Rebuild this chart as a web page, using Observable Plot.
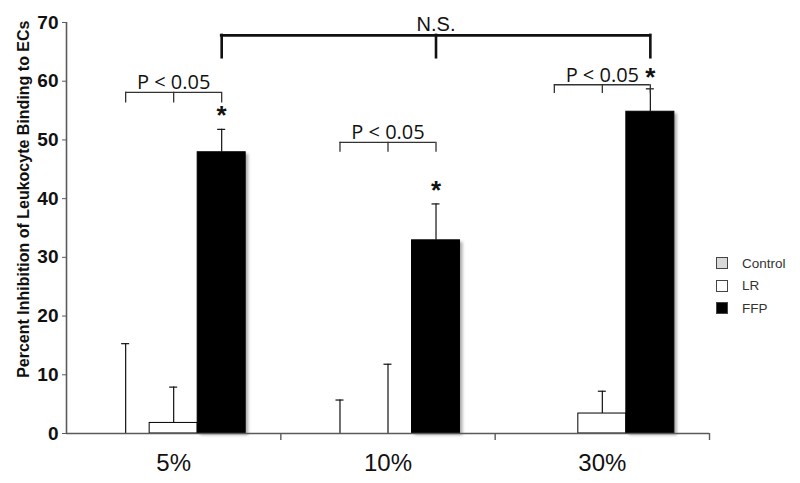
<!DOCTYPE html>
<html><head><meta charset="utf-8">
<script src="https://cdn.jsdelivr.net/npm/d3@7"></script>
<script src="https://cdn.jsdelivr.net/npm/@observablehq/plot@0.6"></script>
<style>
body{margin:0;background:#fff;}
#wrap{position:relative;width:800px;height:483px;}
#wrap svg{position:absolute;left:0;top:0;}
.legend{position:absolute;left:716px;top:252px;font-family:"Liberation Sans",Arial,sans-serif;font-size:13.5px;color:#333;}
.legend div{display:flex;align-items:center;height:22.5px;}
.legend span.sw{display:inline-block;width:10px;height:10px;border:1px solid #444;margin-right:14px;box-sizing:content-box;}
g[aria-label="y-axis tick label"] text{font-weight:bold;}
</style></head><body><div id="wrap"></div>
<script>
// ---- data ----
const groups = ["5%", "10%", "30%"];
const series = ["Control", "LR", "FFP"];
const controlMean = [0, 0, 0];
const controlErr = [15.3, 5.7, 0];
const lrMean = [1.8, 0, 3.4];
const lrErr = [6.1, 11.8, 3.8];
const ffpMean = [47.9, 32.9, 54.8];
const ffpErr = [3.9, 6.2, 3.9];
const yTicks = [0, 10, 20, 30, 40, 50, 60, 70];
const yTitle = "Percent Inhibition of Leukocyte Binding to ECs";
const pLabels = ["P < 0.05", "P < 0.05", "P < 0.05"];
const pLevel = [58.1, 49.6, 59.4];
const pDrop = [56.3, 47.9, 57.9];
const starY = [55.4, 42.5, 61.8];
const nsLabel = "N.S.";
const nsLevel = 67.8;
const nsDrop = 64.0;

// ---- layout helpers ----
const barW = 0.224; // bar width in group units
const xOf = (gi, si) => gi + (si - 1) * barW;
const means = [controlMean, lrMean, ffpMean];
const errs = [controlErr, lrErr, ffpErr];
const rows = [];
groups.forEach((g, gi) => series.forEach((s, si) => {
  const xc = xOf(gi, si);
  rows.push({group: g, series: s, xc, x1: xc - barW / 2, x2: xc + barW / 2, value: means[si][gi], err: errs[si][gi]});
}));
const pRows = groups.map((g, gi) => ({xl: xOf(gi, 0), xr: xOf(gi, 2), xm: xOf(gi, 1), level: pLevel[gi], drop: pDrop[gi], label: pLabels[gi], star: starY[gi], xs: xOf(gi, 2)}));
const pDrops = pRows.flatMap(d => [d.xl, d.xm, d.xr].map(x => ({x, level: d.level, drop: d.drop})));
const ffpX = groups.map((g, gi) => xOf(gi, 2));

const axisGray = "#5a5a5a";
const chart = Plot.plot({
  width: 800, height: 483,
  marginLeft: 66, marginRight: 91, marginTop: 22, marginBottom: 50,
  style: {fontFamily: "'Liberation Sans', Arial, sans-serif", color: "#111", background: "#fff"},
  x: {domain: [-0.5, 2.5], axis: null},
  y: {domain: [0, 70], axis: null},
  color: {domain: series, range: ["#d9d9d9", "#ffffff", "#000000"]},
  marks: [
    // shadow of FFP bars
    Plot.rectY(rows.filter(d => d.series === "FFP"), {x1: "x1", x2: "x2", y1: 0, y2: "value", fill: "#777", fillOpacity: 0.6, dx: 3, dy: 2}),
    Plot.rectY(rows.filter(d => d.value > 0), {x1: "x1", x2: "x2", y1: 0, y2: "value", fill: "series", stroke: "#000", strokeWidth: 1}),
    // error bars
    Plot.ruleX(rows.filter(d => d.err > 0), {x: "xc", y1: "value", y2: d => d.value + d.err, stroke: "#111", strokeWidth: 1.2}),
    Plot.ruleY(rows.filter(d => d.err > 0), {y: d => d.value + d.err, x1: "xc", x2: "xc", insetLeft: -4, insetRight: -4, stroke: "#111", strokeWidth: 1.2}),
    // axes
    Plot.ruleY([0], {stroke: axisGray, strokeWidth: 1.6}),
    Plot.ruleX([-0.5], {stroke: axisGray, strokeWidth: 1.6}),
    Plot.axisY({ticks: yTicks, tickSize: 4, tickPadding: 4, fontSize: 19, label: null, stroke: axisGray}),
    Plot.text([yTitle], {text: d => d, frameAnchor: "top-left", rotate: -90, textAnchor: "end", dx: -49, dy: -2, fontSize: 16, fontWeight: "bold", fill: "#111"}),
    Plot.axisX({ticks: [0, 1, 2], tickFormat: i => groups[i], tickSize: 0, tickPadding: 20, fontSize: 24, label: null, fill: "#111"}),
    Plot.axisX({ticks: [0.5, 1.5, 2.5], tickFormat: () => "", tickSize: 7, label: null, stroke: axisGray, strokeWidth: 1.4}),
    // P brackets
    Plot.ruleY(pRows, {y: "level", x1: "xl", x2: "xr", stroke: "#333", strokeWidth: 1.3}),
    Plot.ruleX(pDrops, {x: "x", y1: "drop", y2: "level", stroke: "#333", strokeWidth: 1.3}),
    Plot.text(pRows, {x: "xm", y: "level", text: "label", lineAnchor: "bottom", dy: -3, fontSize: 20, fontFamily: "'Open Sans', sans-serif", fill: "#111"}),
    Plot.text(pRows, {x: "xs", y: "star", text: () => "*", fontSize: 26, fontWeight: "bold", dy: 7, fill: "#111"}),
    // N.S. bracket
    Plot.ruleY([nsLevel], {x1: ffpX[0], x2: ffpX[2], stroke: "#111", strokeWidth: 2.6, strokeLinecap: "square"}),
    Plot.ruleX(ffpX, {x: d => d, y1: nsDrop, y2: nsLevel, stroke: "#111", strokeWidth: 2.6, strokeLinecap: "square"}),
    Plot.text([nsLabel], {text: d => d, x: ffpX[1], y: nsLevel, lineAnchor: "bottom", dy: -4, fontSize: 20, fill: "#111"})
  ]
});

// soft blur for shadow
const svg = d3.select(chart);
const defs = svg.insert("defs", ":first-child");
defs.append("filter").attr("id", "blur").attr("x", "-20%").attr("y", "-20%").attr("width", "140%").attr("height", "140%")
  .append("feGaussianBlur").attr("stdDeviation", 1.5);
svg.select('g[aria-label="rect"]').attr("filter", "url(#blur)");

const wrap = document.getElementById("wrap");
wrap.appendChild(chart);
const legend = document.createElement("div");
legend.className = "legend";
const swatchFill = {Control: "#d9d9d9", LR: "#ffffff", FFP: "#000000"};
series.forEach(s => {
  const row = document.createElement("div");
  const sw = document.createElement("span");
  sw.className = "sw";
  sw.style.background = swatchFill[s];
  const t = document.createElement("span");
  t.textContent = s;
  row.appendChild(sw); row.appendChild(t);
  legend.appendChild(row);
});
wrap.appendChild(legend);
</script></body></html>
